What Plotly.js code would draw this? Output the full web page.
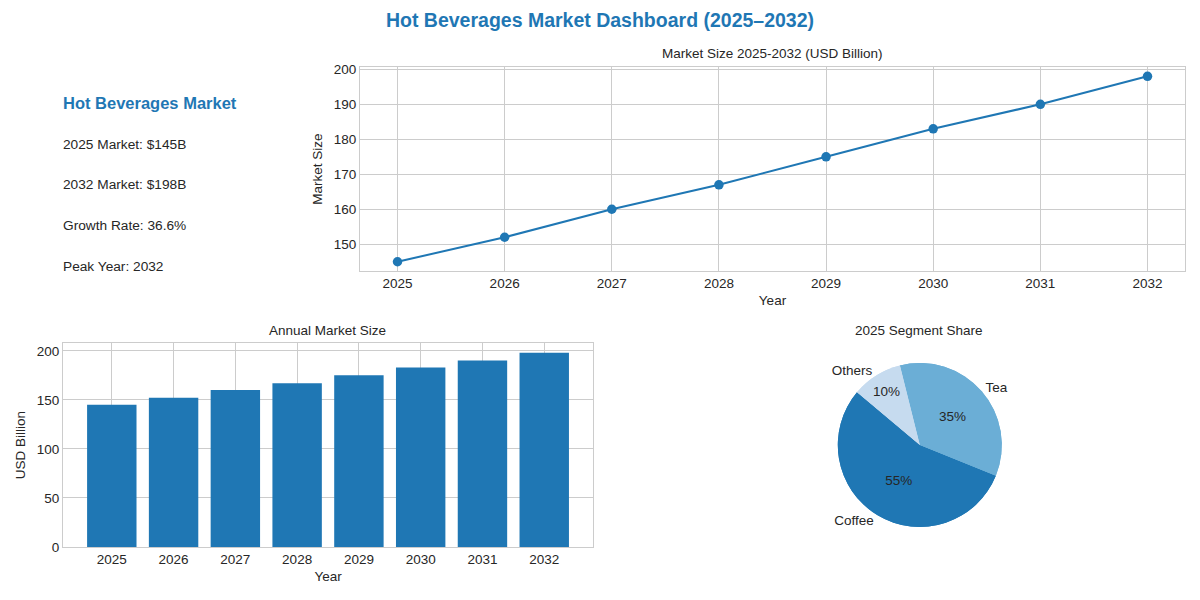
<!DOCTYPE html>
<html>
<head>
<meta charset="utf-8">
<script src="https://cdn.plot.ly/plotly-3.0.1.min.js"></script>
<style>
  html, body { margin: 0; padding: 0; background: #fff; }
  #chart { width: 1200px; height: 600px; }
</style>
</head>
<body>
<div id="chart"></div>
<script>
// ── Datos ────────────────────────────────────────────────────────────────
const years       = [2025, 2026, 2027, 2028, 2029, 2030, 2031, 2032];
const marketSize  = [145, 152, 160, 167, 175, 183, 190, 198];
const segments    = ['Coffee', 'Tea', 'Others'];
const segShare    = [55, 35, 10];
const segColors   = ['#1f77b4', '#6baed6', '#c6dbef'];

const FONT  = 'Liberation Sans, Arial, sans-serif';
const INK   = '#262626';
const GRID  = '#cccccc';
const BLUE  = '#1f77b4';
const TICK  = 13.5;

// resumen calculado a partir de la serie
const first  = marketSize[0];
const last   = marketSize[marketSize.length - 1];
const growth = ((last - first) / first * 100).toFixed(1);
const peak   = years[marketSize.indexOf(Math.max(...marketSize))];
const summary = [
  `${years[0]} Market: $${first}B`,
  `${years[years.length - 1]} Market: $${last}B`,
  `Growth Rate: ${growth}%`,
  `Peak Year: ${peak}`
];

// ── Trazas ───────────────────────────────────────────────────────────────
const lineTrace = {
  type: 'scatter',
  mode: 'lines+markers',
  x: years,
  y: marketSize,
  xaxis: 'x', yaxis: 'y',
  line:   { color: BLUE, width: 2 },
  marker: { color: BLUE, size: 9.5 },
  hoverinfo: 'x+y'
};

const barTrace = {
  type: 'bar',
  x: years,
  y: marketSize,
  xaxis: 'x2', yaxis: 'y2',
  width: 0.8,
  marker: { color: BLUE, line: { width: 0 } }
};

const pieDomain = { x: [0.698, 0.835], y: [0.1217, 0.395] };
const pieRotation = 112;

// etiquetas exteriores (nombres)
const pieLabels = {
  type: 'pie',
  labels: segments,
  values: segShare,
  sort: false,
  direction: 'counterclockwise',
  rotation: pieRotation,
  domain: pieDomain,
  marker: { colors: segColors },
  textinfo: 'label',
  textposition: 'outside',
  outsidetextfont: { color: INK, size: TICK, family: FONT },
  automargin: false,
  showlegend: false,
  hoverinfo: 'skip'
};

// porcentajes interiores
const piePct = {
  type: 'pie',
  labels: segments,
  values: segShare,
  sort: false,
  direction: 'counterclockwise',
  rotation: pieRotation,
  domain: pieDomain,
  marker: { colors: segColors, line: { width: 0 } },
  texttemplate: '%{percent:.0%}',
  textposition: 'inside',
  insidetextorientation: 'horizontal',
  insidetextfont: { color: INK, size: TICK, family: FONT },
  showlegend: false,
  hoverinfo: 'label+percent'
};

// ── Layout ───────────────────────────────────────────────────────────────
const axisBase = {
  showgrid: true,
  gridcolor: GRID,
  gridwidth: 1,
  zeroline: false,
  showline: true,
  linecolor: GRID,
  linewidth: 1,
  mirror: true,
  ticks: '',
  tickfont: { color: INK, size: TICK, family: FONT }
};

const subTitleFont = { size: 13.5, color: INK, family: FONT };
const axTitleFont  = { size: 13.5, color: INK, family: FONT };

const annotations = [
  { text: 'Market Size 2025-2032 (USD Billion)', x: 0.6437, y: 0.91, font: subTitleFont },
  { text: 'Annual Market Size', x: 0.2733, y: 0.45, font: subTitleFont },
  { text: '2025 Segment Share', x: 0.766, y: 0.45, font: subTitleFont },
  { text: '<b>Hot Beverages Market</b>', x: 0.0505, y: 0.828, xanchor: 'left', font: { size: 16.5, color: BLUE, family: FONT } }
].map(a => Object.assign({ xref: 'paper', yref: 'paper', showarrow: false, xanchor: 'center', yanchor: 'middle' }, a));

summary.forEach((line, i) => {
  annotations.push({
    text: line,
    xref: 'paper', yref: 'paper',
    x: 0.0505, y: 0.76 - i * 0.0678,
    xanchor: 'left', yanchor: 'middle',
    showarrow: false,
    font: { size: 13.7, color: INK, family: FONT }
  });
});

const layout = {
  width: 1200,
  height: 600,
  margin: { t: 0, b: 0, l: 0, r: 0 },
  paper_bgcolor: '#ffffff',
  plot_bgcolor: '#ffffff',
  font: { family: FONT, color: INK, size: 12 },
  showlegend: false,
  title: {
    text: '<b>Hot Beverages Market Dashboard (2025–2032)</b>',
    x: 0.5, xanchor: 'center',
    y: 0.967, yanchor: 'middle',
    font: { size: 19.5, color: BLUE, family: FONT }
  },
  xaxis: Object.assign({}, axisBase, {
    domain: [0.3, 0.9875],
    range: [2024.65, 2032.35],
    tickmode: 'array', tickvals: years,
    anchor: 'y',
    title: { text: 'Year', font: axTitleFont, standoff: 5 }
  }),
  yaxis: Object.assign({}, axisBase, {
    domain: [0.5483, 0.8883],
    range: [142.35, 200.65],
    dtick: 10,
    anchor: 'x',
    title: { text: 'Market Size', font: axTitleFont, standoff: 8 }
  }),
  xaxis2: Object.assign({}, axisBase, {
    domain: [0.0525, 0.4942],
    range: [2024.21, 2032.79],
    tickmode: 'array', tickvals: years,
    anchor: 'y2',
    title: { text: 'Year', font: axTitleFont, standoff: 5 }
  }),
  yaxis2: Object.assign({}, axisBase, {
    domain: [0.0883, 0.4283],
    range: [0, 207.9],
    dtick: 50,
    anchor: 'x2',
    title: { text: 'USD Billion', font: axTitleFont, standoff: 8 }
  }),
  annotations
};

Plotly.newPlot('chart', [lineTrace, barTrace, pieLabels, piePct], layout, { displayModeBar: false, staticPlot: true });
</script>
</body>
</html>
